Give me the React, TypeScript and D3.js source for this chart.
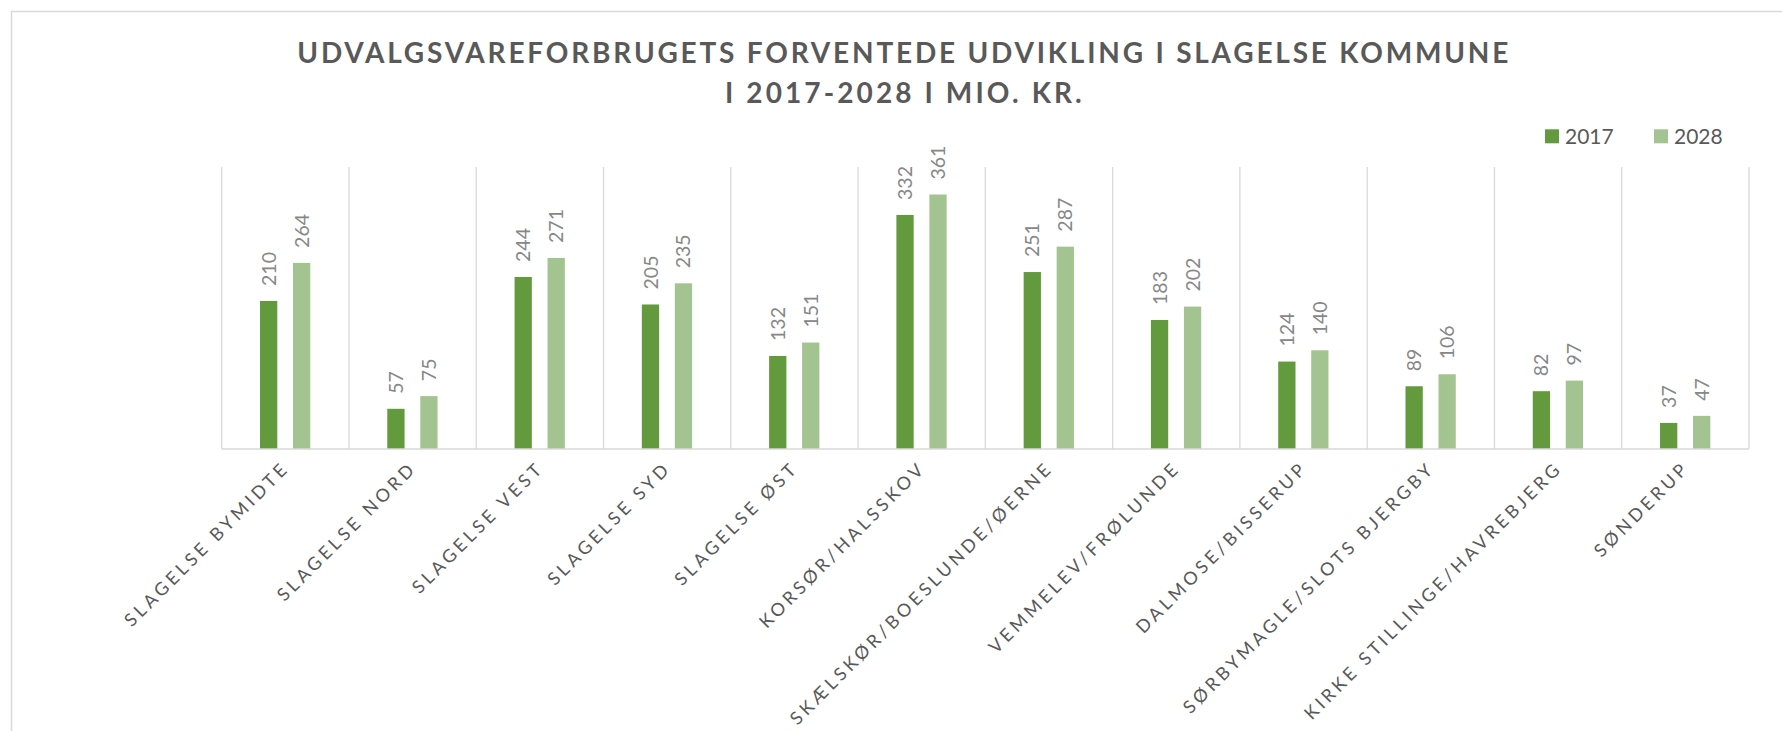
import React from "react";
import * as d3 from "d3";

const categories = [
  "SLAGELSE BYMIDTE",
  "SLAGELSE NORD",
  "SLAGELSE VEST",
  "SLAGELSE SYD",
  "SLAGELSE ØST",
  "KORSØR/HALSSKOV",
  "SKÆLSKØR/BOESLUNDE/ØERNE",
  "VEMMELEV/FRØLUNDE",
  "DALMOSE/BISSERUP",
  "SØRBYMAGLE/SLOTS BJERGBY",
  "KIRKE STILLINGE/HAVREBJERG",
  "SØNDERUP",
];
const values2017 = [210, 57, 244, 205, 132, 332, 251, 183, 124, 89, 82, 37];
const values2028 = [264, 75, 271, 235, 151, 361, 287, 202, 140, 106, 97, 47];
const seriesNames = ["2017", "2028"];
const seriesColors = ["#639A3E", "#A3C491"];
const titleLines = [
  "UDVALGSVAREFORBRUGETS FORVENTEDE UDVIKLING I SLAGELSE KOMMUNE",
  "I 2017-2028 I MIO. KR.",
];

const W = 1782;
const H = 731;
const plotLeft = 221.7;
const plotRight = 1749;
const plotTop = 167;
const plotBottom = 449;
const FONT = "Lato, 'Open Sans', sans-serif";

export default function App() {
  const x0 = d3.scaleBand<string>().domain(categories).range([plotLeft, plotRight]).padding(0);
  const bw = x0.bandwidth();
  const x1 = d3
    .scaleBand<string>()
    .domain(seriesNames)
    .range([bw * 0.301, bw * 0.696])
    .paddingInner(0.476)
    .paddingOuter(0);
  const y = d3.scaleLinear().domain([0, 400]).range([plotBottom, plotTop]);
  const series = [values2017, values2028];

  const gridXs = categories.map((c) => x0(c) as number).concat([plotRight]);

  return (
    <svg
      width={W}
      height={H}
      style={{ position: "absolute", left: 0, top: 0, display: "block", background: "#fff" }}
    >
      <rect x={0} y={0} width={W} height={H} fill="#fff" />
      <rect x={11.5} y={11.5} width={W + 50} height={H + 50} fill="none" stroke="#D9D9D9" strokeWidth={1.5} />

      {/* Title */}
      <text
        x={297.3}
        y={62.7}
        fontFamily={FONT}
        fontWeight={700}
        fontSize={28}
        fill="#595959"
        textLength={1211}
        lengthAdjust="spacing"
      >
        {titleLines[0]}
      </text>
      <text
        x={725}
        y={102.5}
        fontFamily={FONT}
        fontWeight={700}
        fontSize={28}
        fill="#595959"
        textLength={356.7}
        lengthAdjust="spacing"
      >
        {titleLines[1]}
      </text>

      {/* Legend */}
      {seriesNames.map((s, i) => {
        const lx = i === 0 ? 1545 : 1654;
        return (
          <g key={s}>
            <rect x={lx} y={129.3} width={14} height={14} fill={seriesColors[i]} />
            <text x={lx + 20} y={143.5} fontFamily={FONT} fontSize={21} fill="#595959">
              {s}
            </text>
          </g>
        );
      })}

      {/* Gridlines */}
      {gridXs.map((gx, i) => (
        <line key={i} x1={gx} x2={gx} y1={plotTop} y2={plotBottom} stroke="#D9D9D9" strokeWidth={1.3} />
      ))}

      {/* Bars */}
      {categories.map((c, ci) => (
        <g key={c} transform={`translate(${x0(c)},0)`}>
          {series.map((vals, si) => {
            const bx = x1(seriesNames[si]) as number;
            const v = vals[ci];
            const top = y(v);
            const cx = bx + x1.bandwidth() / 2;
            return (
              <g key={si}>
                <rect x={bx} y={top} width={x1.bandwidth()} height={plotBottom - top} fill={seriesColors[si]} />
                <text
                  transform={`translate(${cx},${top - 15}) rotate(-90)`}
                  dy="0.36em"
                  fontFamily={FONT}
                  fontSize={19.5}
                  fill="#878787"
                >
                  {v}
                </text>
              </g>
            );
          })}
        </g>
      ))}

      {/* Axis line */}
      <line x1={plotLeft} x2={plotRight} y1={plotBottom} y2={plotBottom} stroke="#D9D9D9" strokeWidth={1.5} />

      {/* Category labels */}
      {categories.map((c) => {
        const cx = (x0(c) as number) + bw / 2;
        return (
          <text
            key={c}
            transform={`translate(${cx - 4},${plotBottom + 11}) rotate(-45)`}
            textAnchor="end"
            dy="0.72em"
            fontFamily={FONT}
            fontSize={18}
            letterSpacing={3.6}
            fill="#595959"
          >
            {c}
          </text>
        );
      })}
    </svg>
  );
}
